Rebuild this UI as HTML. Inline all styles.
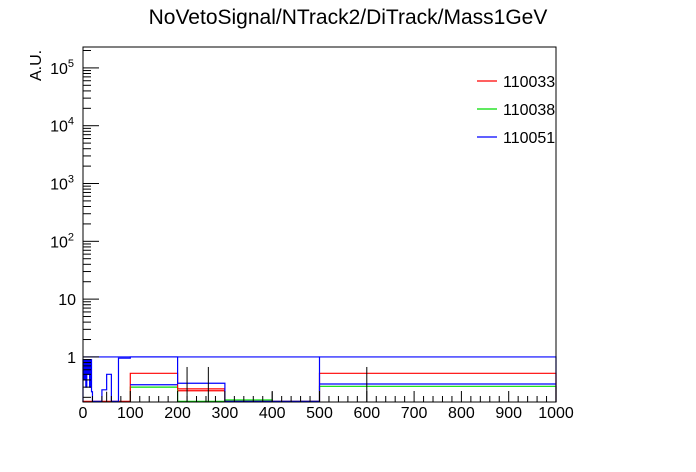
<!DOCTYPE html>
<html><head><meta charset="utf-8"><style>
html,body{margin:0;padding:0;background:#fff;}
svg{display:block;font-family:"Liberation Sans",sans-serif;}
</style></head><body>
<svg id="c" width="696" height="472">
<rect width="696" height="472" fill="#fff"/>
<text x="348" y="24" font-size="21" text-anchor="middle">NoVetoSignal/NTrack2/DiTrack/Mass1GeV</text>
<text transform="translate(41,81) rotate(-90)" font-size="16">A.U.</text>
<g id="plot"></g>
<g id="axes"></g>
<g id="legend"></g>
</svg>
<script>
const edges=[0,2,4,6,8,10,12,14,16,18,20,25,40,50,60,75,100,200,300,500,1000];
const blueVals=[0.9,0.4,0.9,0.3,0.9,0.5,0.9,0.3,0.9,0.25,0.17,0.17,0.27,0.5,0.17,0.95,1.0,0.35,0.17,1.0];
const blueTopEdges=[0,500];
const blueTopVals=[1.0];
const blueLowEdges=[100,200,500,1000];
const blueLowVals=[0.33,0.34];
const redEdges=[0,25,100,200,300,500,1000];
const redVals=[0.17,0.17,0.52,0.28,0.17,0.52];
const red2Edges=[200,300];
const red2Vals=[0.26];
const greenEdges=[100,200,300,400,500,1000];
const greenVals=[0.3,0.17,0.18,0.17,0.31];
const errX=[220,265,400,600,50];
const errHi=[0.67,0.67,0.25,0.67,0.25];
const xTicks=[0,100,200,300,400,500,600,700,800,900,1000];
const yTicks=[1,10,100,1000,10000,100000];
const yTickLabels=["1","10","10|2","10|3","10|4","10|5"];
const legendLabels=["110033","110038","110051"];
const legendColors=["#ff0000","#00dd00","#0000ff"];

const X0=83,X1=556,Y0=47,Y1=402,YMIN=0.166,YMAX=2.3e5;
const sx=v=>X0+(v/1000)*(X1-X0);
const sy=v=>Y1-(Math.log10(Math.max(v,YMIN))-Math.log10(YMIN))/(Math.log10(YMAX)-Math.log10(YMIN))*(Y1-Y0);
const NS="http://www.w3.org/2000/svg";
const plot=document.getElementById('plot'),axes=document.getElementById('axes'),leg=document.getElementById('legend');
function mk(tag,attrs,parent){const e=document.createElementNS(NS,tag);for(const k in attrs)e.setAttribute(k,attrs[k]);parent.appendChild(e);return e;}
function stepPath(ed,vals){let d=`M${sx(ed[0])},${Y1}`;for(let i=0;i<vals.length;i++){d+=`L${sx(ed[i])},${sy(vals[i])}L${sx(ed[i+1])},${sy(vals[i])}`;}d+=`L${sx(ed[vals.length])},${Y1}`;return d;}

const g=mk('path',{d:stepPath(greenEdges,greenVals),fill:'none',stroke:'#00dd00','stroke-width':1.2},plot);


const r=mk('path',{d:stepPath(redEdges,redVals),fill:'none',stroke:'#ff0000','stroke-width':1.2},plot);


const r2=mk('path',{d:`M${sx(red2Edges[0])},${sy(red2Vals[0])}L${sx(red2Edges[1])},${sy(red2Vals[0])}`,fill:'none',stroke:'#ff0000','stroke-width':1.2},plot);


const b=mk('path',{d:stepPath(edges,blueVals),fill:'none',stroke:'#0000ff','stroke-width':1.2},plot);


const bt=mk('path',{d:`M${sx(blueTopEdges[0])},${sy(blueTopVals[0])}L${sx(blueTopEdges[1])},${sy(blueTopVals[0])}`,fill:'none',stroke:'#0000ff','stroke-width':1.2},plot);


for(let i=0;i<blueLowVals.length;i++){
 const l=mk('line',{x1:sx(blueLowEdges[2*i]),x2:sx(blueLowEdges[2*i+1]),y1:sy(blueLowVals[i]),y2:sy(blueLowVals[i]),stroke:'#0000ff','stroke-width':1.2},plot);
 
 
}
for(let i=0;i<errX.length;i++){
 const e=mk('line',{x1:sx(errX[i]),x2:sx(errX[i]),y1:Y1,y2:sy(errHi[i]),stroke:'#000','stroke-width':1},plot);
 
 
}
const fr=mk('rect',{x:X0,y:Y0,width:X1-X0,height:Y1-Y0,fill:'none',stroke:'#000','stroke-width':1},axes);


for(let v=0;v<=1000;v+=20){const major=v%100===0;mk('line',{x1:sx(v),x2:sx(v),y1:Y1,y2:Y1-(major?11:6),stroke:'#000'},axes);}
xTicks.forEach(v=>{const t=mk('text',{x:sx(v),y:418,'font-size':16,'text-anchor':'middle'},axes);t.textContent=v;
 
 });
for(let d=-1;d<=5;d++){for(let m=1;m<10;m++){const v=m*Math.pow(10,d);if(v<YMIN||v>YMAX)continue;const y=sy(v);mk('line',{x1:X0,x2:X0+(m===1?16:8),y1:y,y2:y,stroke:'#000'},axes);}}
yTicks.forEach((v,i)=>{const p=yTickLabels[i].split('|');const t=mk('text',{x:76,y:sy(v)+6,'font-size':16,'text-anchor':'end'},axes);
 
 
 if(p.length===1){t.textContent=p[0];}else{t.setAttribute('x',74);t.textContent=p[0];const s=mk('tspan',{'font-size':11,dy:-7},t);s.textContent=p[1];}});
legendLabels.forEach((s,i)=>{const y=81+i*28;
 const l=mk('line',{x1:477,x2:497,y1:y,y2:y,stroke:legendColors[i],'stroke-width':1.2},leg);
 
 
 const t=mk('text',{x:503,y:y+6,'font-size':16},leg);t.textContent=s;
 
 });
</script>
</body></html>
